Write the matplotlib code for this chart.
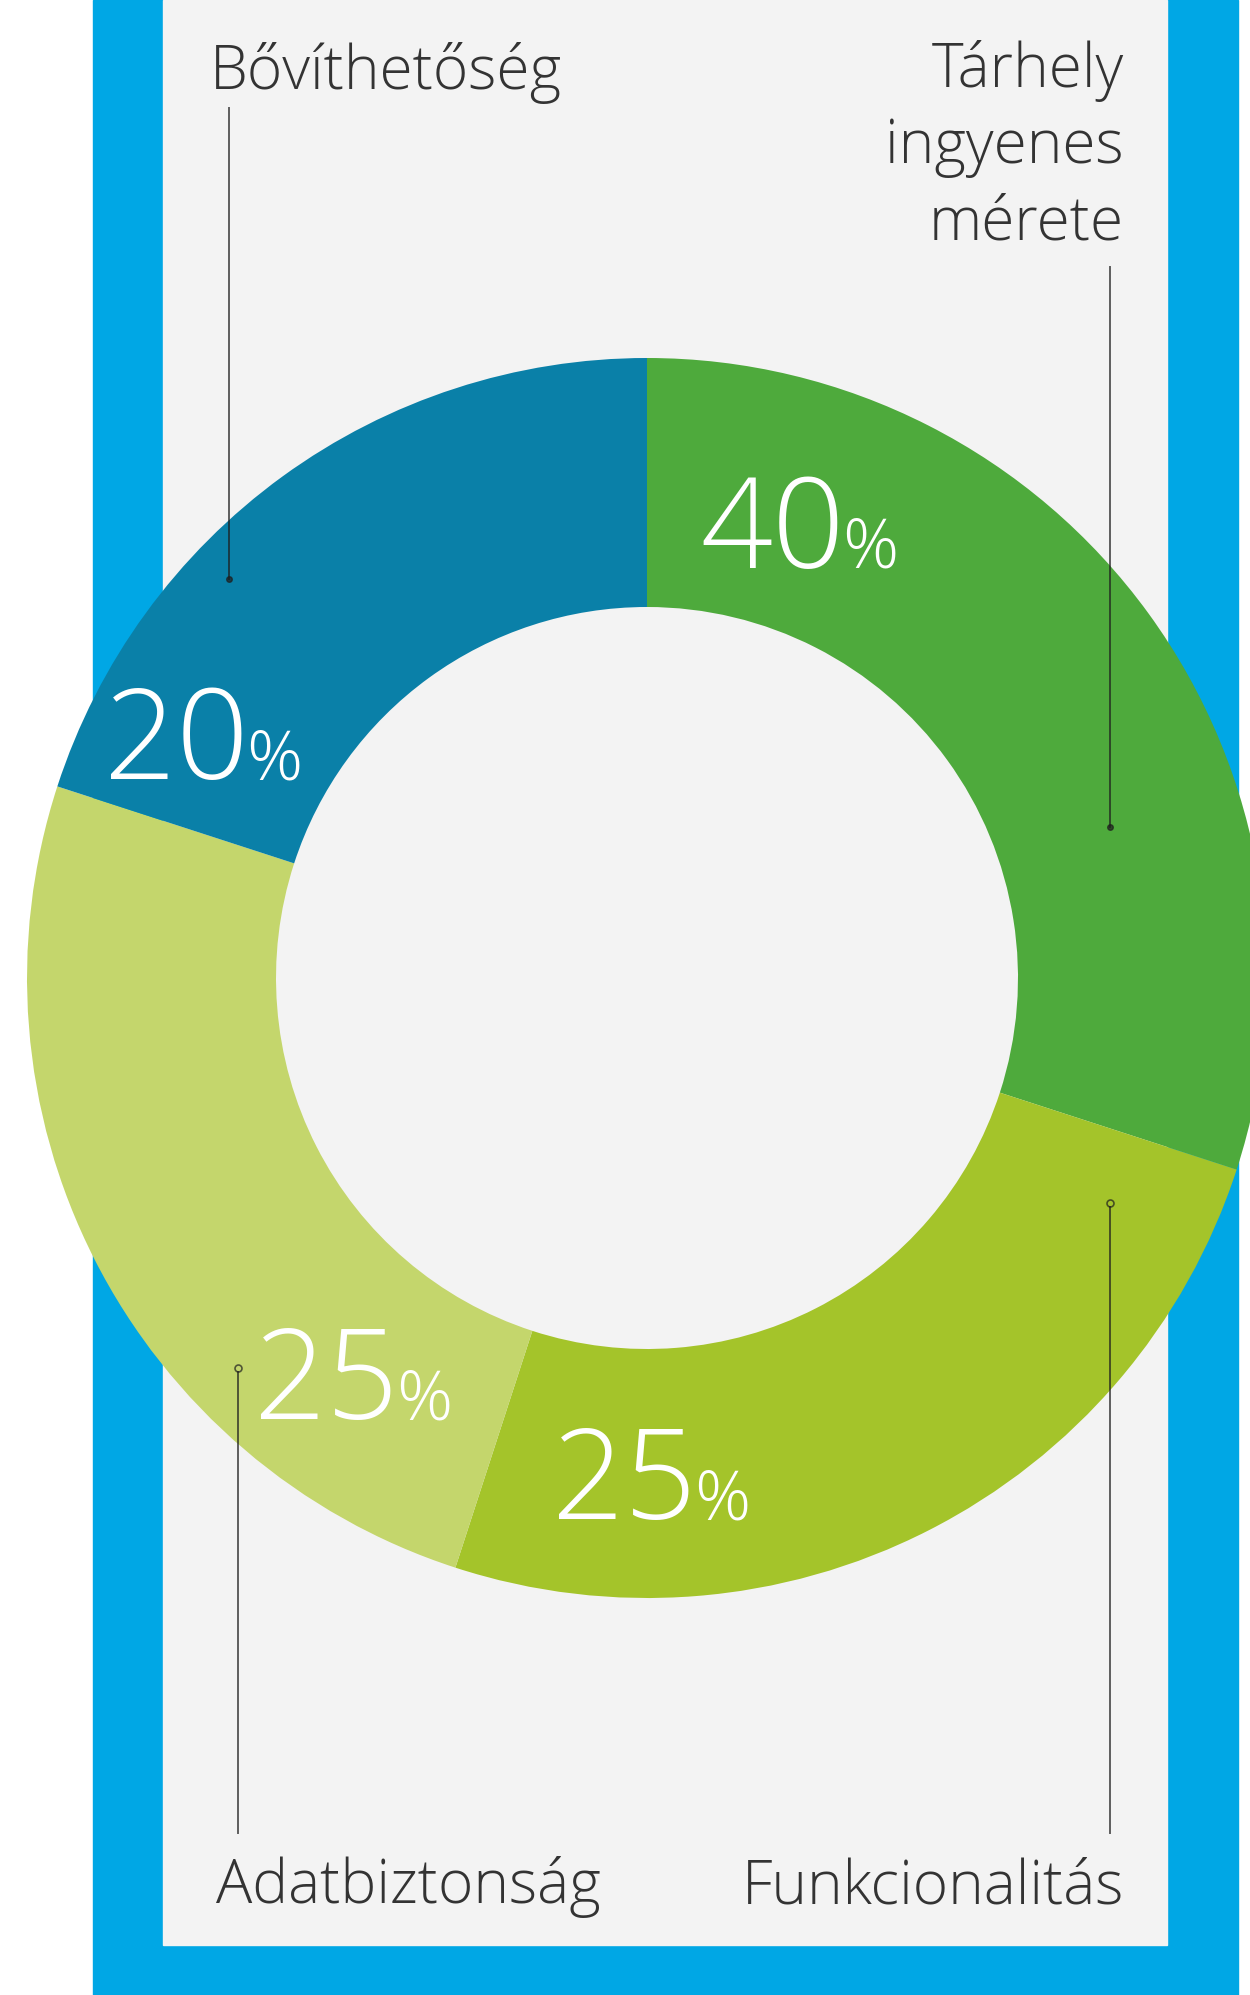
import matplotlib
matplotlib.use("Agg")
import matplotlib.pyplot as plt
from matplotlib.patches import Rectangle

# slices, clockwise from 12 o'clock
categories = ["Tárhely\ningyenes\nmérete", "Funkcionalitás", "Adatbiztonság", "Bővíthetőség"]
shares = [30, 25, 25, 20]          # slice sizes as drawn in the picture
pct_labels = ["40", "25", "25", "20"]  # printed values
colors = ["#4eaa3c", "#a4c42a", "#c4d66c", "#0a80a8"]

W, H = 1250, 1995
plt.rcParams['font.family'] = ['Open Sans', 'DejaVu Sans']

fig = plt.figure(figsize=(W / 100, H / 100), dpi=100)
fig.patch.set_facecolor("white")
ax = fig.add_axes([0, 0, 1, 1])


def Y(y):
    return H - y


# blue frame and light panel
ax.add_patch(Rectangle((93, 0), 1238 - 93, H, color="#00a7e5", zorder=0))
ax.add_patch(Rectangle((163, Y(1945)), 1167 - 163, 1945, color="#f3f3f3", zorder=1))

cx, cy = 647, Y(978)
R, r = 620, 371
ax.pie(shares, colors=colors, startangle=90, counterclock=False,
       center=(cx, cy), radius=R,
       wedgeprops=dict(width=R - r, linewidth=0, zorder=2))

ax.set_xlim(0, W)
ax.set_ylim(0, H)
ax.set_aspect("auto")
ax.axis("off")

# percentage labels (number + small %)
pct_pos = [(700, 568), (552, 1519), (254, 1419), (104, 779)]
fig.canvas.draw()
for (x, y), p in zip(pct_pos, pct_labels):
    t = ax.text(x, Y(y), p, fontsize=91, fontweight="light", color="white",
                ha="left", va="baseline", zorder=5)
    bb = t.get_window_extent(renderer=fig.canvas.get_renderer())
    ax.text(bb.x1 - 2, Y(y), "%", fontsize=50, fontweight="light", color="white",
            ha="left", va="baseline", zorder=5)

# category labels
lab_kw = dict(fontsize=43.5, fontweight="light", color="#333333", va="baseline", zorder=5)
ax.text(210, Y(89), categories[3], ha="left", **lab_kw)
for i, line in enumerate(categories[0].split("\n")):
    ax.text(1124, Y(87 + 76 * i), line, ha="right", **lab_kw)
ax.text(216, Y(1903), categories[2], ha="left", **lab_kw)
ax.text(1124, Y(1903), categories[1], ha="right", **lab_kw)

# leader lines
line_c = "#1e1e1e"
la = 0.7
ax.plot([229, 229], [Y(108), Y(579)], color=line_c, alpha=la, lw=1.4, zorder=4)
ax.plot([229], [Y(579)], "o", ms=4, color=line_c, alpha=la, zorder=4)
ax.plot([1110, 1110], [Y(267), Y(827)], color=line_c, alpha=la, lw=1.4, zorder=4)
ax.plot([1110], [Y(827)], "o", ms=4, color=line_c, alpha=la, zorder=4)
ax.plot([238, 238], [Y(1372), Y(1833)], color=line_c, alpha=la, lw=1.4, zorder=4)
ax.plot([238], [Y(1368)], "o", ms=5, mfc="none", mec=line_c, alpha=la, mew=1.2, zorder=4)
ax.plot([1110, 1110], [Y(1207), Y(1833)], color=line_c, alpha=la, lw=1.4, zorder=4)
ax.plot([1110], [Y(1203)], "o", ms=5, mfc="none", mec=line_c, alpha=la, mew=1.2, zorder=4)

fig.savefig("out.png", dpi=100)
